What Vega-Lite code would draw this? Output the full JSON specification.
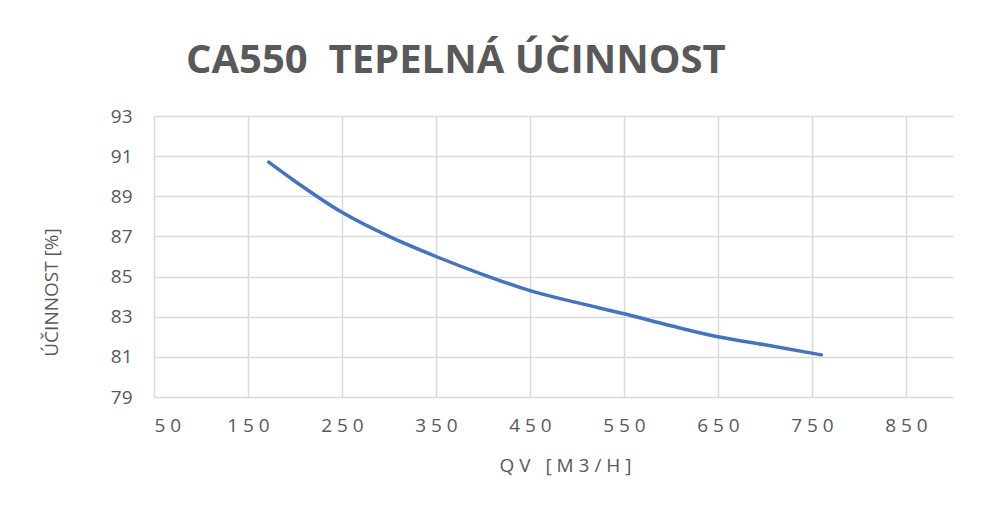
{
  "$schema": "https://vega.github.io/schema/vega-lite/v6.json",
  "width": 799,
  "height": 281,
  "autosize": {"type": "none"},
  "padding": {"left": 154, "top": 116, "right": 35, "bottom": 110},
  "background": "white",
  "title": {
    "text": "CA550\u00a0 TEPELNÁ ÚČINNOST",
    "font": "Open Sans",
    "fontWeight": "bold",
    "fontSize": 40,
    "color": "#595959",
    "anchor": "start",
    "frame": "group",
    "dx": 32,
    "baseline": "alphabetic",
    "offset": -6
  },
  "config": {
    "view": {"stroke": null},
    "axis": {
      "labelFont": "Open Sans",
      "titleFont": "Open Sans",
      "labelColor": "#595959",
      "titleColor": "#595959",
      "titleFontWeight": "normal",
      "gridColor": "#d9d9d9",
      "gridWidth": 1.5,
      "ticks": false,
      "domain": false
    }
  },
  "data": {
    "values": [
      {"qv": 172, "eff": 90.7},
      {"qv": 200, "eff": 89.75},
      {"qv": 250, "eff": 88.2},
      {"qv": 300, "eff": 87.0},
      {"qv": 350, "eff": 86.0},
      {"qv": 400, "eff": 85.1},
      {"qv": 450, "eff": 84.3},
      {"qv": 500, "eff": 83.7},
      {"qv": 550, "eff": 83.15},
      {"qv": 600, "eff": 82.55},
      {"qv": 650, "eff": 82.0},
      {"qv": 700, "eff": 81.6},
      {"qv": 760, "eff": 81.1}
    ]
  },
  "mark": {"type": "line", "color": "#4472C4", "strokeWidth": 3.5, "interpolate": "monotone", "strokeCap": "round"},
  "encoding": {
    "x": {
      "field": "qv",
      "type": "quantitative",
      "scale": {"domain": [50, 900], "nice": false, "zero": false},
      "axis": {
        "values": [50, 150, 250, 350, 450, 550, 650, 750, 850],
        "title": "Q V\u00a0\u00a0 [ M 3 / H ]",
        "labelFontSize": 19,
        "labelPadding": 19,
        "titleFontSize": 19,
        "titlePadding": 21,
        "titleX": 411,
        "labelExpr": "replace(datum.label, /(\\d)(?=\\d)/g, '$1 ')"
      }
    },
    "y": {
      "field": "eff",
      "type": "quantitative",
      "scale": {"domain": [79, 93], "nice": false, "zero": false},
      "axis": {
        "values": [79, 81, 83, 85, 87, 89, 91, 93],
        "title": "ÚČINNOST [%]",
        "labelFontSize": 19,
        "labelPadding": 22,
        "titleFontSize": 19,
        "titleAngle": 270,
        "titleAlign": "center",
        "titleBaseline": "middle",
        "titleX": -103,
        "titleY": 176
      }
    }
  }
}
